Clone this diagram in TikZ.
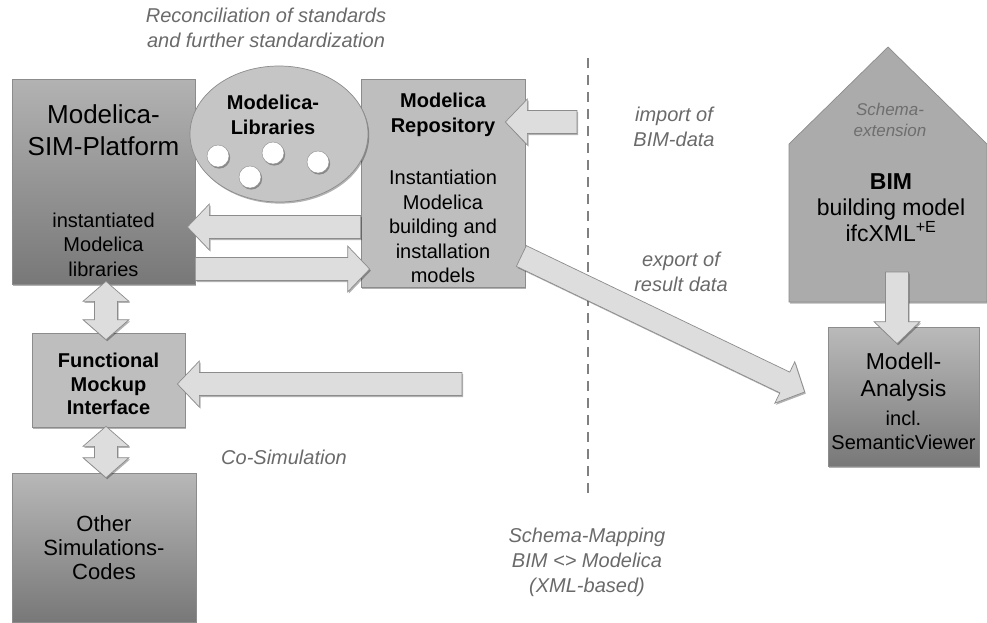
\documentclass[tikz,border=0pt]{standalone}
\usepackage{fontspec}
\setmainfont{Liberation Sans}
\usetikzlibrary{calc,shadows,shapes.geometric}

\definecolor{boxgray}{HTML}{BEBEBE}
\definecolor{edgegray}{HTML}{8C8C8C}
\definecolor{arrowgray}{HTML}{DDDDDD}
\definecolor{housegray}{HTML}{ABABAB}
\definecolor{ellgray}{HTML}{C5C5C5}
\definecolor{lblgray}{HTML}{6A6A6A}

\tikzset{
  softshadow/.style={drop shadow={shadow xshift=1.2pt, shadow yshift=-1.6pt, opacity=0.3, fill=black}},
  flatbox/.style={draw=edgegray, line width=0.7pt, fill=boxgray, softshadow},
  gradbox/.style={draw=edgegray, line width=0.7pt, top color=#1, bottom color=black!53, softshadow},
  gradbox/.default={black!30},
  % 方块箭头: 起点 -> 终点
  blockarrow/.style={draw=edgegray, line width=0.7pt, fill=arrowgray, softshadow,
    to path={
      let \p1=(\tikztostart), \p2=(\tikztotarget),
          \n1={atan2(\y2-\y1,\x2-\x1)}, \n2={veclen(\x2-\x1,\y2-\y1)}
      in {[shift={(\p1)}, rotate=\n1]
        (0,-11.5) -- ({\n2-22},-11.5) -- ({\n2-22},-23) -- (\n2,0)
        -- ({\n2-22},23) -- ({\n2-22},11.5) -- (0,11.5) -- cycle}
    }},
  % 双向方块箭头
  twinarrow/.style={draw=edgegray, line width=0.7pt, fill=arrowgray, softshadow,
    to path={
      let \p1=(\tikztostart), \p2=(\tikztotarget),
          \n1={atan2(\y2-\y1,\x2-\x1)}, \n2={veclen(\x2-\x1,\y2-\y1)}
      in {[shift={(\p1)}, rotate=\n1]
        (0,0) -- (20,-23) -- (20,-11.5) -- ({\n2-20},-11.5) -- ({\n2-20},-23)
        -- (\n2,0) -- ({\n2-20},23) -- ({\n2-20},11.5) -- (20,11.5) -- (20,23) -- cycle}
    }},
  divider/.style={draw=black!50, line width=2.6pt, dash pattern=on 10pt off 7pt},
  txt/.style={align=center, inner sep=0pt, font=\fontsize{20}{24.5}\selectfont},
  bigtxt/.style={txt, font=\fontsize{26}{32}\selectfont},
  boldtxt/.style={txt, font=\fontsize{20}{24.5}\selectfont\bfseries},
  lbl/.style={txt, text=lblgray, font=\fontsize{20}{25}\selectfont\itshape}
}

\begin{document}
\begin{tikzpicture}[x=1pt, y=-1pt]
    \useasboundingbox (0,0) rectangle (987,622);

    % 分隔虚线
    \coordinate (divtop) at (588,58);
    \coordinate (divbot) at (588,495);
    \draw[divider] (divtop) -- (divbot);

    % 左侧方框
    \node[gradbox, minimum width=183, minimum height=205] (sim) at (103.5,181.5) {};
    \node[flatbox, minimum width=164, minimum height=208] (repo) at (443,183) {};
    \node[flatbox, minimum width=153, minimum height=94] (fmi) at (108.5,380) {};
    \node[gradbox=black!28, minimum width=184, minimum height=149] (other) at (104,547.5) {};

    % 右侧: BIM 房子和分析
    \draw[draw=edgegray, line width=0.7pt, fill=housegray, softshadow]
        (789,302) -- (789,144) -- (888,47) -- (987,144) -- (987,302) -- cycle;
    \node[gradbox=black!27, minimum width=151, minimum height=139] (ana) at (903.5,396.5) {};

    % 平台 <-> 仓库
    \draw[blockarrow] ($(repo.west)+(0,44)$) to ($(sim.east)+(-8,45.5)$);
    \draw[blockarrow] ($(sim.east)+(0,87.5)$) to ($(repo.west)+(9,86)$);

    % 库
    \node[draw=edgegray, line width=0.7pt, fill=ellgray, ellipse, inner sep=0pt,
          minimum width=178, minimum height=136, softshadow] (libs) at (279,134) {};
    \foreach \cx/\cy [count=\i] in {218/156, 273/153, 250/177, 318/162}
        \node[circle, draw=edgegray, fill=white, minimum size=22, inner sep=0pt, softshadow] (lib\i) at (\cx,\cy) {};

    % 导入 / 导出
    \coordinate (bimin) at (577,122);
    \draw[blockarrow] (bimin) to ($(repo.east)+(-20,-61)$);
    \draw[blockarrow] ($(repo.east)+(-4,73)$) to ($(ana.west)+(-23,-4.5)$);
    \coordinate (housefoot) at (897,272);
    \draw[blockarrow] (housefoot) to ($(ana.north)+(-6.5,17)$);

    % FMI
    \coordinate (cosim) at (462,384);
    \draw[blockarrow] (cosim) to ($(fmi.east)+(-8,4)$);
    \draw[twinarrow] ($(sim.south)+(2.5,-3)$) to ($(fmi.north)+(-2.5,7)$);
    \draw[twinarrow] ($(fmi.south)+(-2.5,-1)$) to ($(other.north)+(2,5)$);

    % 文字
    \node[lbl] (recon) at (266,28) {Reconciliation of standards\\and further standardization};
    \node[bigtxt] (simname) at ($(sim.north)+(0,52)$) {Modelica-\\SIM-Platform};
    \node[txt] (simlibs) at ($(sim.south)+(0,-40)$) {instantiated\\Modelica\\libraries};
    \node[boldtxt] (libsname) at ($(libs.center)+(-6,-19)$) {Modelica-\\Libraries};
    \node[boldtxt] (reponame) at ($(repo.north)+(0,36)$) {Modelica\\Repository};
    \node[txt] (repotext) at ($(repo.south)+(0,-61)$) {Instantiation\\Modelica\\building and\\installation\\models};
    \node[boldtxt, font=\fontsize{20}{23.5}\selectfont\bfseries] (fminame) at ($(fmi.center)+(0,4)$) {Functional\\Mockup\\Interface};
    \node[txt, font=\fontsize{22}{24}\selectfont] (othername) at (other.center) {Other\\Simulations-\\Codes};
    \node[lbl, text=black!57, font=\fontsize{17}{21}\selectfont\itshape] (schema) at (890,120) {Schema-\\extension};
    \node[txt, font=\fontsize{23}{26}\selectfont] (bim) at (891,208) {\textbf{BIM}\\building model\\ifcXML\textsuperscript{+E}};
    \node[txt, font=\fontsize{23}{27}\selectfont] (anatitle) at ($(ana.north)+(0,50)$) {Modell-\\Analysis};
    \node[txt] (anasub) at ($(ana.south)+(0,-36)$) {incl.\\SemanticViewer};
    \node[lbl] (importlbl) at (674,127) {import of\\BIM-data};
    \node[lbl] (exportlbl) at (681,272) {export of\\result data};
    \node[lbl] (cosimlbl) at (284,457) {Co-Simulation};
    \node[lbl] (mappinglbl) at (587,562) {Schema-Mapping\\BIM <> Modelica\\(XML-based)};
\end{tikzpicture}
\end{document}
